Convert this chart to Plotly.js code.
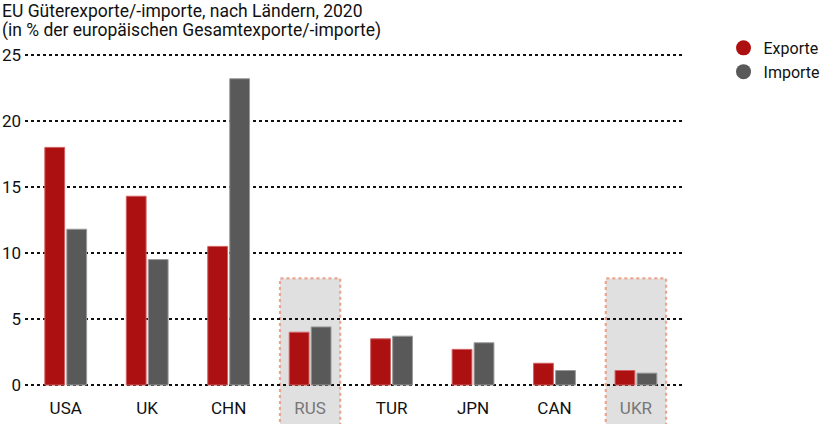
<!DOCTYPE html>
<html><head><meta charset="utf-8">
<script src="https://cdn.plot.ly/plotly-3.0.1.min.js"></script>
<style>body{margin:0}#c{width:825px;height:424px}</style>
</head><body><div id="c"></div>
<script>
const countries = ["USA","UK","CHN","RUS","TUR","JPN","CAN","UKR"];
const highlighted = ["RUS","UKR"];
const exporte = [18.0, 14.3, 10.5, 4.0, 3.5, 2.7, 1.65, 1.1];
const importe = [11.8, 9.5, 23.2, 4.4, 3.7, 3.2, 1.1, 0.9];
const yTicks = [0,5,10,15,20,25];
const titleLines = ["EU Güterexporte/-importe, nach Ländern, 2020",
                    "(in % der europäischen Gesamtexporte/-importe)"];

const red = "#ad1010", grey = "#595959";
const font = "Roboto, 'DejaVu Sans', sans-serif";
const idx = countries.map((c,i)=>i);

const traces = [
  {type:"bar", x:idx, y:exporte, name:"Exporte", showlegend:false,
   marker:{color:red, line:{color:"#d06060", width:1}}, hoverinfo:"skip"},
  {type:"bar", x:idx, y:importe, name:"Importe", showlegend:false,
   marker:{color:grey, line:{color:"#999", width:1}}, hoverinfo:"skip"},
  {type:"scatter", mode:"markers", x:[null], y:[null], name:"Exporte",
   marker:{color:red, size:15, symbol:"circle"}},
  {type:"scatter", mode:"markers", x:[null], y:[null], name:"Importe",
   marker:{color:grey, size:15, symbol:"circle"}}
];

const shapes = highlighted.map(c=>{
  const i = countries.indexOf(c);
  return {type:"rect", layer:"below", xref:"x", yref:"paper",
    x0:i-0.37, x1:i+0.37, y0:-0.115, y1:0.325,
    fillcolor:"#e0e0e0", line:{color:"#e8a690", width:2.2, dash:"dot"}};
});

const plotH = 424-53-37, plotW = 825-25-141;
const layout = {
  width:825, height:424,
  margin:{l:25, r:141, t:53, b:37},
  paper_bgcolor:"#fff", plot_bgcolor:"rgba(0,0,0,0)",
  font:{family:font, size:15, color:"#111"},
  barmode:"group", bargap:0.46, bargroupgap:0.1,
  showlegend:true,
  legend:{xref:"container", yref:"container", x:0.877, y:0.927, xanchor:"left", yanchor:"top",
    font:{family:font, size:16, color:"#111"}, itemwidth:30, tracegroupgap:0,
    bgcolor:"rgba(0,0,0,0)"},
  annotations:titleLines.map((t,k)=>({text:t,
    xref:"paper", yref:"paper", x:-25/plotW, y:(387-(11+19*k))/plotH,
    xanchor:"left", yanchor:"middle", align:"left",
    showarrow:false, font:{family:font, size:17.5, color:"#111"}})),
  xaxis:{range:[-0.5,7.59], tickvals:idx,
    ticktext:countries.map(c=>highlighted.includes(c)?`<span style="color:#777">${c}</span>`:c),
    showgrid:false, zeroline:false, showline:false, ticks:"", fixedrange:true,
    ticklabelstandoff:9, tickfont:{size:17, family:font}},
  yaxis:{range:[-0.15,25.15], tickvals:yTicks, showgrid:true, gridcolor:"#111",
    griddash:"dot", gridwidth:1.5, zeroline:false, showline:false, ticks:"",
    ticklabelstandoff:3, tickfont:{size:17, family:font}},
  shapes:shapes
};
Plotly.newPlot("c", traces, layout, {displayModeBar:false, staticPlot:true});
</script></body></html>
